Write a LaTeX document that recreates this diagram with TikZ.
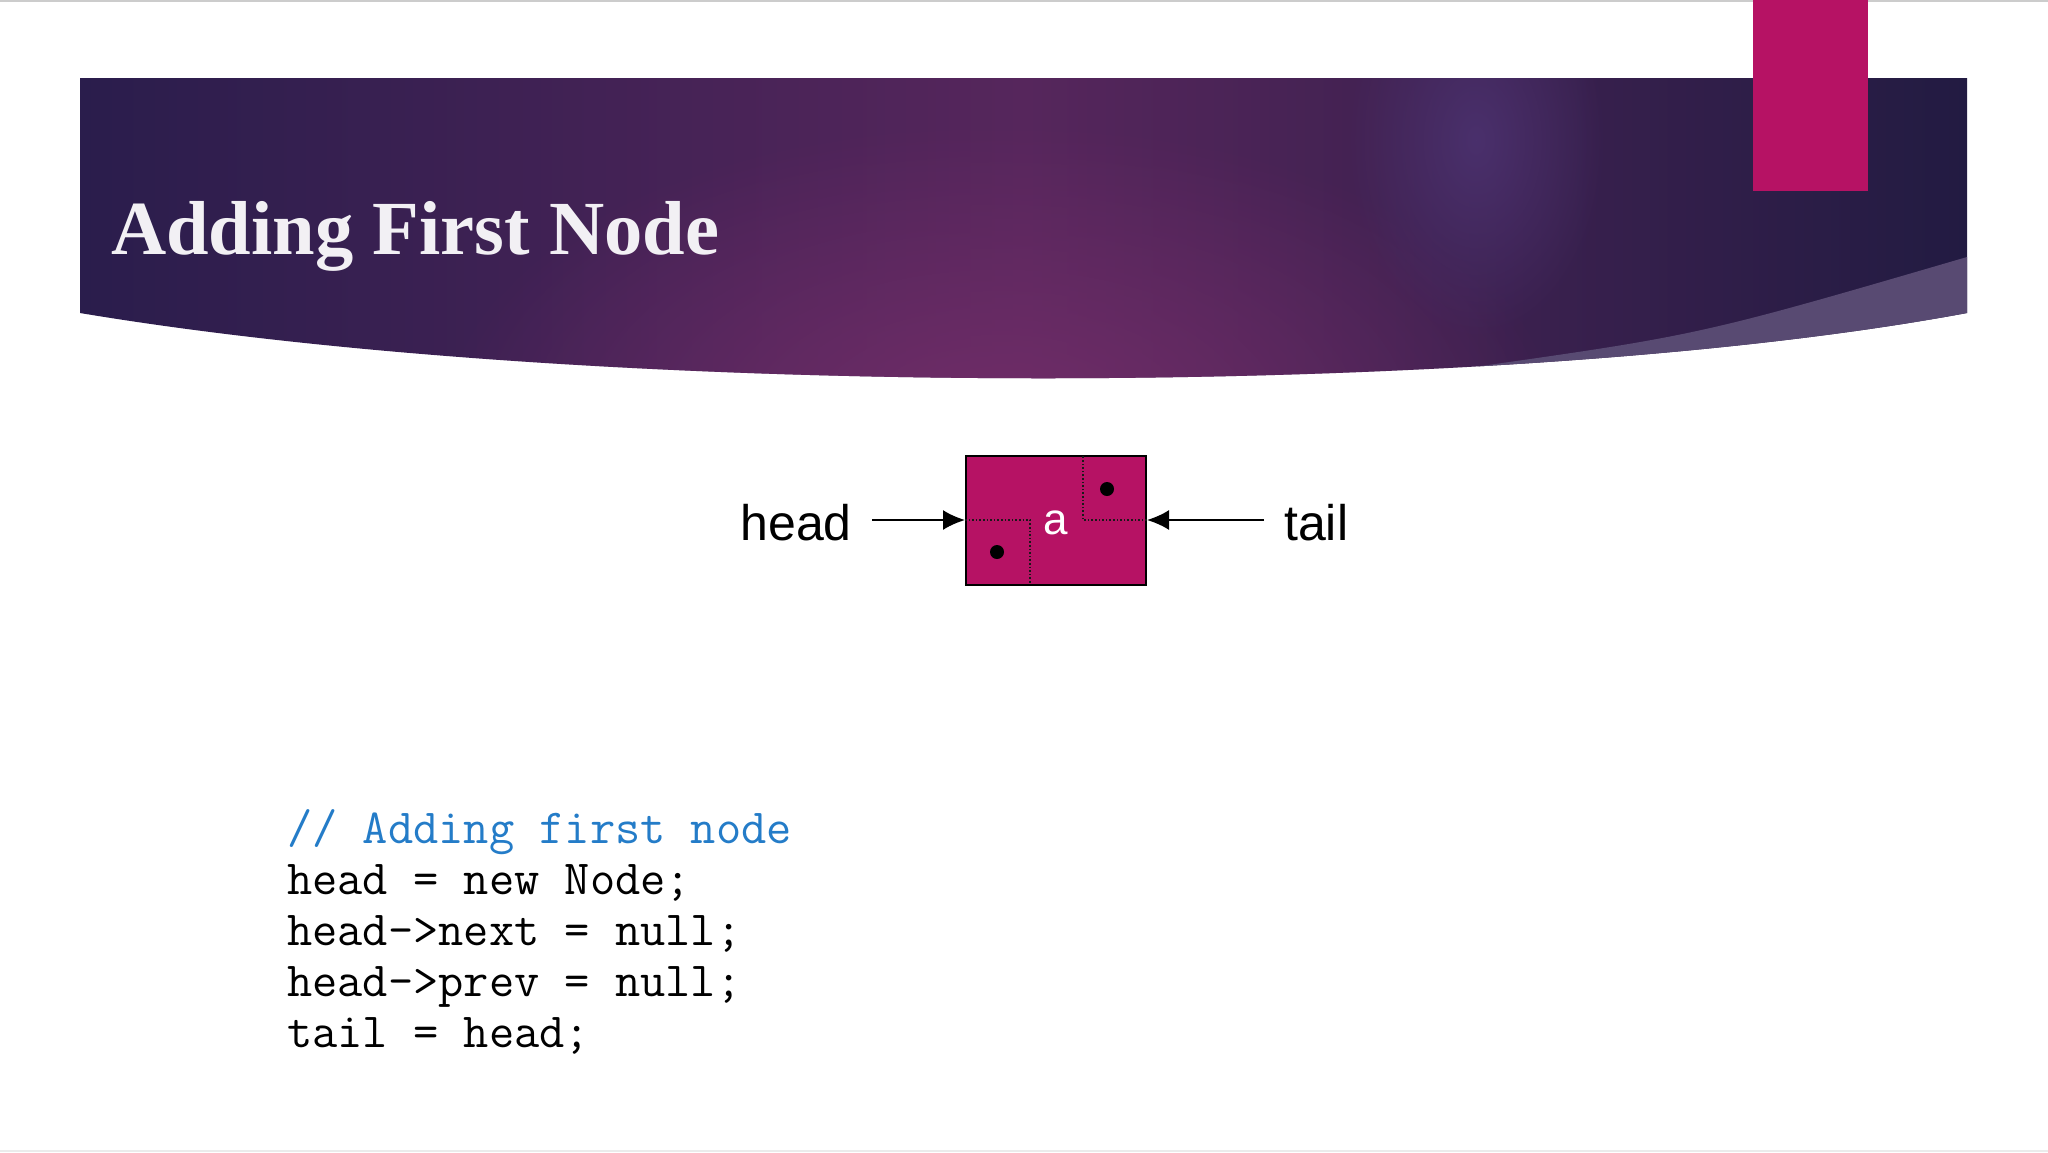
\documentclass[tikz,border=0pt]{standalone}
\usepackage{fontspec}
\setmainfont{Liberation Serif}
\newfontfamily\sansfont{Liberation Sans}
\usetikzlibrary{arrows.meta, positioning, fadings}
\definecolor{bannerdark}{RGB}{42,29,76}
\definecolor{bannerright}{RGB}{34,27,66}
\definecolor{bannermid}{RGB}{86,38,92}
\definecolor{bannerglow}{RGB}{112,45,104}
\definecolor{bannerhi}{RGB}{74,48,108}
\definecolor{wedge}{RGB}{88,74,114}
\definecolor{accent}{RGB}{182,18,100}
\definecolor{comment}{RGB}{36,124,200}
\definecolor{titlewhite}{RGB}{242,240,244}
\tikzfading[name=glow, inner color=transparent!0, outer color=transparent!100]

\begin{document}
\begin{tikzpicture}[x=1pt, y=-1pt,
    lbl/.style={font=\sansfont\fontsize{50}{60}\selectfont, inner xsep=20pt, inner ysep=0pt},
    code/.style={font=\ttfamily\fontsize{49}{51}\selectfont, anchor=base west, inner sep=0pt},
    ptr/.style={line width=2pt, -{Latex[length=22pt, width=20pt]}},
    cell/.style={line width=1.6pt, dotted, black!90}]
    \useasboundingbox (0,0) rectangle (2048,1152);
    \fill[white] (0,0) rectangle (2048,1152);
    \draw[black!20, line width=2pt] (0,1) -- (2048,1);
    \draw[black!8, line width=2pt] (0,1151) -- (2048,1151);

    % banner
    \begin{scope}
        \clip (80,78) -- (1967,78) -- (1967,313) .. controls (1500,400) and (600,400) .. (80,313) -- cycle;
        \shade[left color=bannerdark, right color=bannerright, middle color=bannermid] (80,78) rectangle (1967,400);
        \fill[bannerglow, path fading=glow] (1000,420) ellipse (560 and 300);
        \fill[bannerhi, path fading=glow] (1476,140) ellipse (130 and 200);
        \fill[wedge] (1467,368) .. controls (1700,335) .. (1967,257) -- (1967,420) -- (1400,420) -- cycle;
    \end{scope}
    \fill[accent] (1753,0) rectangle (1868,191);
    \node[anchor=base west, inner sep=0pt, text=titlewhite, font=\bfseries\fontsize{76.5}{90}\selectfont] (title) at (111,254) {Adding First Node};

    % node a
    \node[draw=black, line width=2pt, fill=accent, minimum width=180pt, minimum height=129pt, inner sep=0pt,
          text height=29pt, text depth=0pt, text=white, font=\sansfont\fontsize{44}{52}\selectfont] (nodea) at (1056,520) {a};
    \draw[cell] (nodea.west) -- ++(65,0) -- ++(0,64.5);
    \draw[cell] (nodea.east) -- ++(-64,0) -- ++(0,-64.5);
    \fill (nodea.west) ++(32,32) circle (7);
    \fill (nodea.east) ++(-40,-31) circle (7);

    \node[lbl, anchor=base east] (headlbl) at (872,540) {head};
    \node[lbl, anchor=base west] (taillbl) at (1264,540) {tail};
    \draw[ptr] (headlbl.east |- nodea.west) -- (nodea.west);
    \draw[ptr] (taillbl.west |- nodea.east) -- (nodea.east);

    % code
    \node[code, text=comment] (code1) at (287,843) {// Adding first node};
    \node[code] (code2) at (287,894) {head = new Node;};
    \node[code] (code3) at (287,945) {head->next = null;};
    \node[code] (code4) at (287,996) {head->prev = null;};
    \node[code] (code5) at (287,1047) {tail = head;};
\end{tikzpicture}
\end{document}
